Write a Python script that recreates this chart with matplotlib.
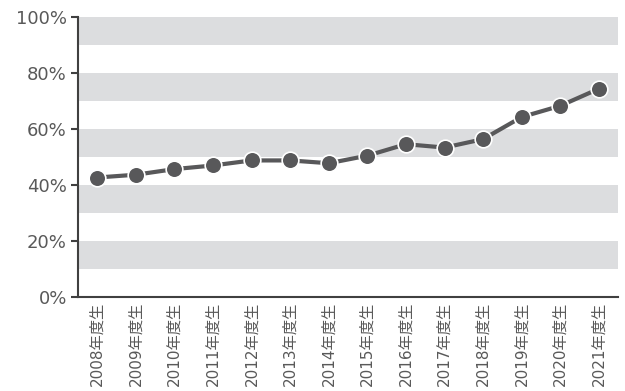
import matplotlib
matplotlib.use('Agg')
import matplotlib.pyplot as plt
import numpy as np

plt.rcParams['font.family'] = ['DejaVu Sans', 'Noto Sans CJK JP']

years = ['2008年度生', '2009年度生', '2010年度生', '2011年度生', '2012年度生',
         '2013年度生', '2014年度生', '2015年度生', '2016年度生', '2017年度生',
         '2018年度生', '2019年度生', '2020年度生', '2021年度生']
rates = [42.6, 43.6, 45.6, 46.9, 48.7, 48.7, 47.7, 50.4, 54.5, 53.3,
         56.3, 64.2, 68.2, 74.3]
yticks = [0, 20, 40, 60, 80, 100]
ylabels = ['0%', '20%', '40%', '60%', '80%', '100%']

fig = plt.figure(figsize=(6.25, 3.91), dpi=100)
ax = fig.add_axes([0.1248, 0.241, 0.989 - 0.1248, 0.957 - 0.241])

x = np.arange(len(years))
# alternating grey bands
for lo in range(10, 100, 20):
    ax.axhspan(lo, lo + 10, color='#dcdddf', lw=0, zorder=0)

ax.plot(x, rates, color='#58585a', lw=3, marker='o', ms=12,
        mfc='#58585a', mec='white', mew=1.2, zorder=3)

ax.set_xlim(-0.5, len(years) - 0.5)
ax.set_ylim(0, 100)
ax.set_yticks(yticks)
ax.set_yticklabels(ylabels)
ax.set_xticks(x)
ax.set_xticklabels(years, rotation=90, va='top', ha='center')

ax.tick_params(axis='y', length=5, width=1.5, color='#404040',
               labelsize=13, labelcolor='#595959', pad=3)
ax.tick_params(axis='x', length=0, labelsize=11, labelcolor='#595959', pad=3.5)

for s in ['top', 'right']:
    ax.spines[s].set_visible(False)
for s in ['left', 'bottom']:
    ax.spines[s].set_color('#404040')
    ax.spines[s].set_linewidth(1.5)

fig.savefig('out.png', dpi=100)
